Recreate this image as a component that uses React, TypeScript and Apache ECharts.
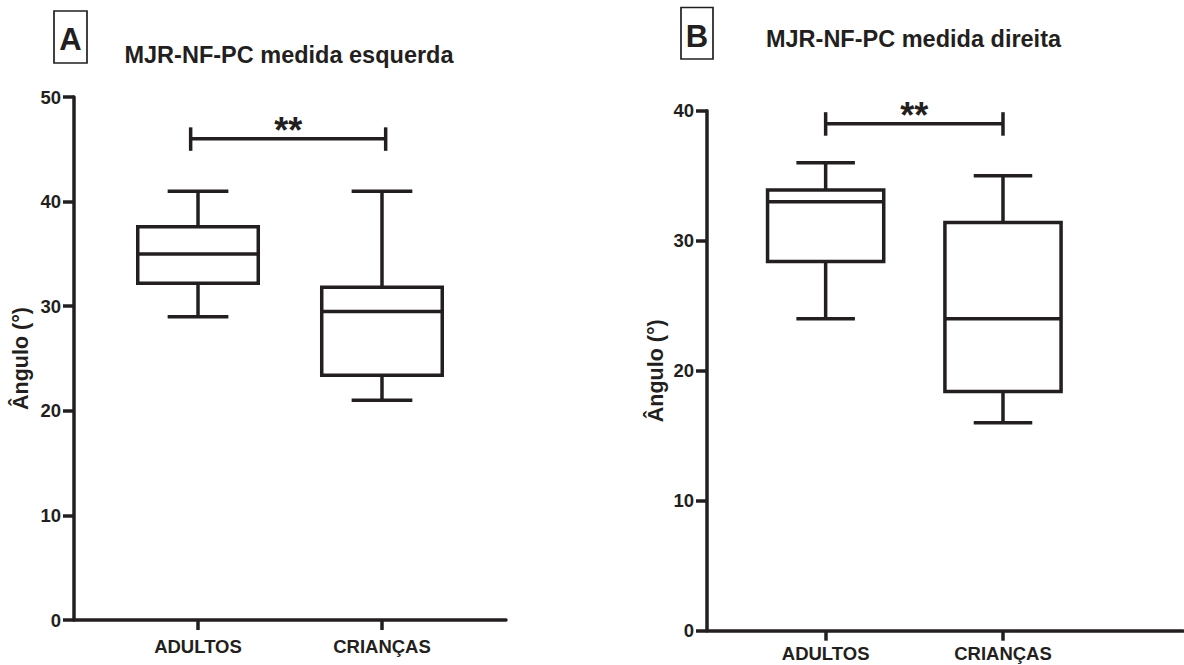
import React, { useEffect, useRef } from 'react';
import * as echarts from 'echarts';

const categories = ['ADULTOS', 'CRIANÇAS'];

// Panel A — MJR-NF-PC medida esquerda
const leftMin = [29, 21];
const leftQ1 = [32.2, 23.4];
const leftMedian = [35, 29.5];
const leftQ3 = [37.6, 31.8];
const leftMax = [41, 41];
const leftBracket = [-0.04, 1.02, 46]; // from, to, level

// Panel B — MJR-NF-PC medida direita
const rightMin = [24, 16];
const rightQ1 = [28.4, 18.4];
const rightMedian = [33, 24];
const rightQ3 = [33.9, 31.4];
const rightMax = [36, 35];
const rightBracket = [0, 1, 39];

const sigLabel = '**';
const yName = 'Ângulo (°)';
const titleA = 'MJR-NF-PC medida esquerda';
const titleB = 'MJR-NF-PC medida direita';

const INK = '#231f20';
const FONT = '"Liberation Sans", Arial, Helvetica, sans-serif';
const LW = 3.5;
const BOX_W = 0.655;
const CAP_W = 0.33;

const boxRender = (params: any, api: any) => {
  const x = api.value(0);
  const lo = api.value(1), q1 = api.value(2), med = api.value(3), q3 = api.value(4), hi = api.value(5);
  const halfBox = api.size([BOX_W, 0])[0] / 2;
  const halfCap = api.size([CAP_W, 0])[0] / 2;
  const pLo = api.coord([x, lo]);
  const pQ1 = api.coord([x, q1]);
  const pMed = api.coord([x, med]);
  const pQ3 = api.coord([x, q3]);
  const pHi = api.coord([x, hi]);
  const cx = pLo[0];
  const style = { stroke: INK, lineWidth: LW, fill: null };
  return {
    type: 'group',
    children: [
      { type: 'line', shape: { x1: cx, y1: pHi[1], x2: cx, y2: pQ3[1] }, style },
      { type: 'line', shape: { x1: cx, y1: pQ1[1], x2: cx, y2: pLo[1] }, style },
      { type: 'line', shape: { x1: cx - halfCap, y1: pHi[1], x2: cx + halfCap, y2: pHi[1] }, style },
      { type: 'line', shape: { x1: cx - halfCap, y1: pLo[1], x2: cx + halfCap, y2: pLo[1] }, style },
      {
        type: 'rect',
        shape: { x: cx - halfBox, y: pQ3[1], width: 2 * halfBox, height: pQ1[1] - pQ3[1] },
        style: { stroke: INK, lineWidth: LW, fill: '#ffffff' },
      },
      { type: 'line', shape: { x1: cx - halfBox, y1: pMed[1], x2: cx + halfBox, y2: pMed[1] }, style },
    ],
  };
};

const bracketRender = (params: any, api: any) => {
  const p1 = api.coord([api.value(0), api.value(2)]);
  const p2 = api.coord([api.value(1), api.value(2)]);
  const style = { stroke: INK, lineWidth: LW, fill: null };
  return {
    type: 'group',
    children: [
      { type: 'line', shape: { x1: p1[0], y1: p1[1], x2: p2[0], y2: p2[1] }, style },
      { type: 'line', shape: { x1: p1[0], y1: p1[1] - 11.5, x2: p1[0], y2: p1[1] + 12 }, style },
      { type: 'line', shape: { x1: p2[0], y1: p2[1] - 11.5, x2: p2[0], y2: p2[1] + 12 }, style },
      {
        type: 'text',
        x: (p1[0] + p2[0]) / 2,
        y: p1[1] - 8,
        style: {
          text: sigLabel,
          fontSize: 36,
          fontWeight: 'bold',
          fontFamily: FONT,
          fill: INK,
          align: 'center',
          verticalAlign: 'middle',
        },
      },
    ],
  };
};

const makeXAxis = (gridIndex: number, min: number, max: number, margin: number) => ({
  gridIndex,
  type: 'value',
  min,
  max,
  axisLine: { show: true, onZero: false, lineStyle: { color: INK, width: LW } },
  axisTick: { show: true, customValues: [0, 1], length: 10, lineStyle: { color: INK, width: LW } },
  axisLabel: {
    show: true,
    customValues: [0, 1],
    formatter: (v: number) => categories[Math.round(v)] ?? '',
    fontSize: 18.5,
    fontWeight: 'bold',
    fontFamily: FONT,
    color: INK,
    margin,
  },
  splitLine: { show: false },
});

const makeYAxis = (gridIndex: number, max: number, nameGap: number) => ({
  gridIndex,
  type: 'value',
  min: 0,
  max,
  interval: 10,
  axisLine: { show: true, onZero: false, lineStyle: { color: INK, width: LW } },
  axisTick: { show: true, length: 11, lineStyle: { color: INK, width: LW } },
  axisLabel: { fontSize: 18.5, fontWeight: 'bold', fontFamily: FONT, color: INK, margin: 13 },
  splitLine: { show: false },
  name: yName,
  nameLocation: 'middle',
  nameGap,
  nameTextStyle: { fontSize: 21.5, fontWeight: 'bold', fontFamily: FONT, color: INK },
});

export default function App() {
  const ref = useRef<HTMLDivElement>(null);
  useEffect(() => {
    if (!ref.current) return;
    const chart = echarts.init(ref.current, null, { renderer: 'svg' });
    const boxA = categories.map((_, i) => [i, leftMin[i], leftQ1[i], leftMedian[i], leftQ3[i], leftMax[i]]);
    const boxB = categories.map((_, i) => [i, rightMin[i], rightQ1[i], rightMedian[i], rightQ3[i], rightMax[i]]);
    chart.setOption({
      animation: false,
      backgroundColor: '#ffffff',
      grid: [
        { left: 74, top: 97, width: 432, height: 523, containLabel: false, outerBoundsMode: 'none' },
        { left: 707, top: 110.7, width: 476, height: 520, containLabel: false, outerBoundsMode: 'none' },
      ],
      xAxis: [makeXAxis(0, -0.674, 1.674, 17), makeXAxis(1, -0.669, 2.015, 13.5)],
      yAxis: [makeYAxis(0, 50, 42), makeYAxis(1, 40, 40)],
      series: [
        { type: 'custom', xAxisIndex: 0, yAxisIndex: 0, renderItem: boxRender, data: boxA, encode: { x: 0, y: [1, 2, 3, 4, 5] }, silent: true },
        { type: 'custom', xAxisIndex: 0, yAxisIndex: 0, renderItem: bracketRender, data: [leftBracket], encode: { x: [0, 1], y: 2 }, silent: true },
        { type: 'custom', xAxisIndex: 1, yAxisIndex: 1, renderItem: boxRender, data: boxB, encode: { x: 0, y: [1, 2, 3, 4, 5] }, silent: true },
        { type: 'custom', xAxisIndex: 1, yAxisIndex: 1, renderItem: bracketRender, data: [rightBracket], encode: { x: [0, 1], y: 2 }, silent: true },
      ],
      graphic: [
        { type: 'rect', shape: { x: 54, y: 11, width: 33, height: 52 }, style: { fill: 'none', stroke: INK, lineWidth: 1.7 } },
        { type: 'text', x: 70.5, y: 39.5, style: { text: 'A', fontSize: 31, fontWeight: 'bold', fontFamily: FONT, fill: INK, align: 'center', verticalAlign: 'middle' } },
        { type: 'rect', shape: { x: 681, y: 7.5, width: 32, height: 51.5 }, style: { fill: 'none', stroke: INK, lineWidth: 1.7 } },
        { type: 'text', x: 697, y: 36, style: { text: 'B', fontSize: 31, fontWeight: 'bold', fontFamily: FONT, fill: INK, align: 'center', verticalAlign: 'middle' } },
        { type: 'text', x: 289, y: 55, style: { text: titleA, fontSize: 23.5, fontWeight: 'bold', fontFamily: FONT, fill: INK, align: 'center', verticalAlign: 'middle' } },
        { type: 'text', x: 913.5, y: 39, style: { text: titleB, fontSize: 23.5, fontWeight: 'bold', fontFamily: FONT, fill: INK, align: 'center', verticalAlign: 'middle' } },
      ],
    });
    return () => chart.dispose();
  }, []);
  return <div ref={ref} style={{ position: 'absolute', left: 0, top: 0, width: 1184, height: 665 }} />;
}
